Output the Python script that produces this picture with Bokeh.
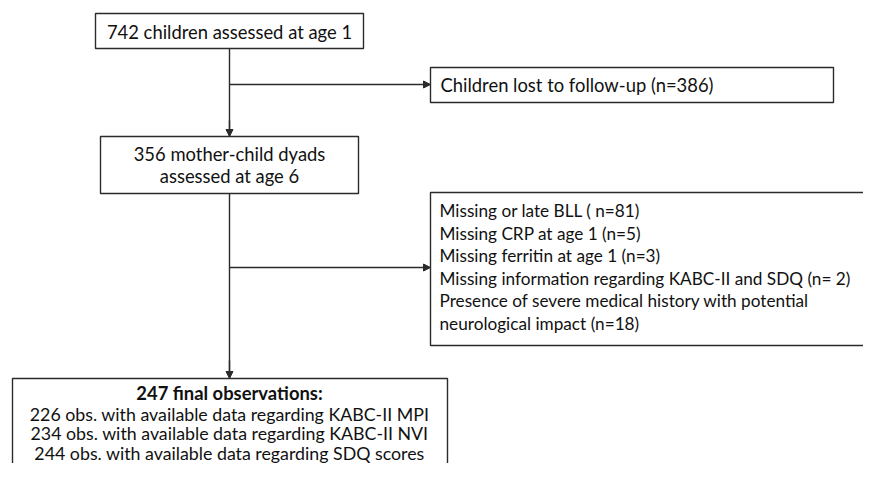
from bokeh.plotting import figure
from bokeh.models import Range1d, Arrow, NormalHead, ColumnDataSource
from bokeh.core.properties import value
from bokeh.embed import file_html
from bokeh.resources import INLINE

# ---- content (texts / numbers) ----
start_text = ["742 children assessed at age 1"]
lost_text = ["Children lost to follow-up (n=386)"]
age6_text = ["356 mother-child dyads", "assessed at age 6"]
excl_text = [
    "Missing or late BLL ( n=81)",
    "Missing CRP at age 1 (n=5)",
    "Missing ferritin at age 1 (n=3)",
    "Missing information regarding KABC-II and SDQ (n= 2)",
    "Presence of severe medical history with potential",
    "neurological impact (n=18)",
]
final_title = ["247 final observations:"]
final_text = [
    "226 obs. with available data regarding KABC-II MPI",
    "234 obs. with available data regarding KABC-II NVI",
    "244 obs. with available data regarding SDQ scores",
]

# ---- layout (pixel space of the original picture) ----
p = figure(width=863, height=463, x_range=Range1d(0, 863), y_range=Range1d(463, 0),
           output_backend="svg", toolbar_location=None, min_border=0)
p.axis.visible = False
p.grid.visible = False
p.outline_line_color = None
p.background_fill_color = "white"

FONT = value("Lato")
LC = "#2b2b2b"
LW = 1.4

boxes = dict(
    left=[95, 430, 100, 430, 12],
    right=[363, 833, 358, 900, 447],
    top=[13, 67, 136, 192, 378],
    bottom=[48, 102, 193, 345, 500],
)
p.quad(source=ColumnDataSource(boxes), left="left", right="right", top="top", bottom="bottom",
       fill_color="white", line_color=LC, line_width=LW)

# connector lines
XC = 229
p.segment(x0=[XC, XC], y0=[48, 193], x1=[XC, XC], y1=[136, 378], line_color=LC, line_width=LW)
arrows = [(XC, 120, XC, 136), (XC, 360, XC, 378), (XC, 84, 430, 84), (XC, 267, 430, 267)]
for (x0, y0, x1, y1) in arrows:
    p.add_layout(Arrow(end=NormalHead(size=7, fill_color=LC, line_color=LC, line_width=1),
                       x_start=x0, y_start=y0, x_end=x1, y_end=y1,
                       line_color=LC, line_width=LW))

def txt(xs, ys, texts, size, align="left", style="normal"):
    p.text(x=xs, y=ys, text=texts, text_font=FONT, text_font_size=size,
           text_align=align, text_baseline="middle", text_color="#111111",
           text_font_style=style)

txt([229], [31], start_text, "18.4px", "center")
txt([440], [84], lost_text, "18.4px")
txt([229, 229], [153, 175], age6_text, "18.4px", "center")
txt([439] * len(excl_text), [210, 232.6, 255.2, 277.8, 300.4, 323], excl_text, "17.2px")
txt([229], [392], final_title, "18.4px", "center", "bold")
txt([229] * len(final_text), [413, 432.5, 452], final_text, "17.8px", "center")

open("out.html", "w").write(file_html(p, INLINE))
